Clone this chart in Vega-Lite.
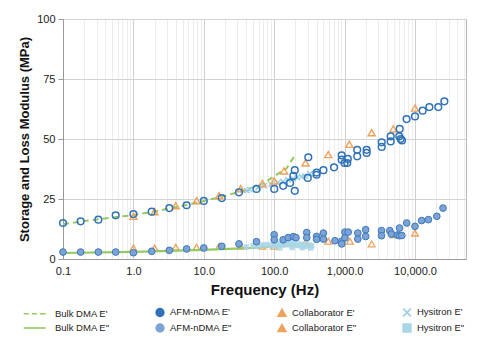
{
  "$schema": "https://vega.github.io/schema/vega-lite/v6.json",
  "width": 403,
  "height": 240,
  "autosize": {"type": "none"},
  "padding": {"left": 63, "top": 19, "right": 16, "bottom": 89},
  "config": {
    "font": "Liberation Sans",
    "view": {"stroke": "#b4b4b4"},
    "axis": {"labelColor": "#222", "titleColor": "#111", "domainColor": "#9a9a9a", "tickColor": "#9a9a9a"},
    "legend": {
      "orient": "none", "legendX": -23, "legendY": 288,
      "direction": "horizontal", "columns": 4,
      "columnPadding": 42, "rowPadding": 0,
      "labelFontSize": 9.5, "labelOffset": 5, "labelColor": "#222",
      "symbolSize": 60, "symbolStrokeWidth": 1.6
    }
  },
  "data": {"values": [
    {"series": "Bulk DMA E'", "freq": 0.1, "mod": 14.5},
    {"series": "Bulk DMA E'", "freq": 0.2, "mod": 15.8},
    {"series": "Bulk DMA E'", "freq": 0.5, "mod": 17.3},
    {"series": "Bulk DMA E'", "freq": 1, "mod": 18.3},
    {"series": "Bulk DMA E'", "freq": 2, "mod": 19.8},
    {"series": "Bulk DMA E'", "freq": 5, "mod": 22.2},
    {"series": "Bulk DMA E'", "freq": 10, "mod": 24.2},
    {"series": "Bulk DMA E'", "freq": 20, "mod": 26.3},
    {"series": "Bulk DMA E'", "freq": 40, "mod": 28.8},
    {"series": "Bulk DMA E'", "freq": 70, "mod": 31.5},
    {"series": "Bulk DMA E'", "freq": 100, "mod": 34.5},
    {"series": "Bulk DMA E'", "freq": 150, "mod": 37.8},
    {"series": "Bulk DMA E'", "freq": 200, "mod": 43.5},
    {"series": "Bulk DMA E\"", "freq": 0.1, "mod": 2.5},
    {"series": "Bulk DMA E\"", "freq": 1, "mod": 3.0},
    {"series": "Bulk DMA E\"", "freq": 10, "mod": 3.8},
    {"series": "Bulk DMA E\"", "freq": 50, "mod": 4.6},
    {"series": "Bulk DMA E\"", "freq": 100, "mod": 5.3},
    {"series": "Bulk DMA E\"", "freq": 150, "mod": 6.0},
    {"series": "Hysitron E\"", "freq": 40, "mod": 5.0},
    {"series": "Hysitron E\"", "freq": 50, "mod": 5.5},
    {"series": "Hysitron E\"", "freq": 60, "mod": 5.2},
    {"series": "Hysitron E\"", "freq": 70, "mod": 5.8},
    {"series": "Hysitron E\"", "freq": 80, "mod": 6.0},
    {"series": "Hysitron E\"", "freq": 90, "mod": 5.5},
    {"series": "Hysitron E\"", "freq": 100, "mod": 6.2},
    {"series": "Hysitron E\"", "freq": 110, "mod": 5.6},
    {"series": "Hysitron E\"", "freq": 120, "mod": 6.4},
    {"series": "Hysitron E\"", "freq": 120, "mod": 4.6},
    {"series": "Hysitron E\"", "freq": 130, "mod": 5.8},
    {"series": "Hysitron E\"", "freq": 140, "mod": 6.6},
    {"series": "Hysitron E\"", "freq": 150, "mod": 5.9},
    {"series": "Hysitron E\"", "freq": 160, "mod": 6.5},
    {"series": "Hysitron E\"", "freq": 175, "mod": 6.0},
    {"series": "Hysitron E\"", "freq": 180, "mod": 4.8},
    {"series": "Hysitron E\"", "freq": 190, "mod": 6.8},
    {"series": "Hysitron E\"", "freq": 200, "mod": 5.7},
    {"series": "Hysitron E\"", "freq": 215, "mod": 6.3},
    {"series": "Hysitron E\"", "freq": 230, "mod": 5.6},
    {"series": "Hysitron E\"", "freq": 245, "mod": 6.1},
    {"series": "Hysitron E\"", "freq": 250, "mod": 4.7},
    {"series": "Hysitron E\"", "freq": 260, "mod": 5.4},
    {"series": "Hysitron E\"", "freq": 280, "mod": 5.9},
    {"series": "Hysitron E\"", "freq": 300, "mod": 5.3},
    {"series": "Hysitron E\"", "freq": 320, "mod": 5.8},
    {"series": "Hysitron E\"", "freq": 330, "mod": 4.6},
    {"series": "Hysitron E\"", "freq": 340, "mod": 5.5},
    {"series": "Hysitron E'", "freq": 41, "mod": 28.5},
    {"series": "Hysitron E'", "freq": 45, "mod": 28.9},
    {"series": "Hysitron E'", "freq": 59, "mod": 29.7},
    {"series": "Hysitron E'", "freq": 71.5, "mod": 30.5},
    {"series": "Hysitron E'", "freq": 90, "mod": 31.2},
    {"series": "Hysitron E'", "freq": 113, "mod": 31.8},
    {"series": "Hysitron E'", "freq": 133, "mod": 32.2},
    {"series": "Hysitron E'", "freq": 157, "mod": 33.0},
    {"series": "Hysitron E'", "freq": 185, "mod": 33.5},
    {"series": "Hysitron E'", "freq": 213, "mod": 33.9},
    {"series": "Hysitron E'", "freq": 245, "mod": 34.3},
    {"series": "Hysitron E'", "freq": 273, "mod": 34.6},
    {"series": "Hysitron E'", "freq": 322, "mod": 35.5},
    {"series": "Collaborator E'", "freq": 1, "mod": 17.8},
    {"series": "Collaborator E'", "freq": 2, "mod": 19.7},
    {"series": "Collaborator E'", "freq": 4, "mod": 22.2},
    {"series": "Collaborator E'", "freq": 7.9, "mod": 24.3},
    {"series": "Collaborator E'", "freq": 16.5, "mod": 26.4},
    {"series": "Collaborator E'", "freq": 33.4, "mod": 29.3},
    {"series": "Collaborator E'", "freq": 68, "mod": 31.5},
    {"series": "Collaborator E'", "freq": 100, "mod": 32.5},
    {"series": "Collaborator E'", "freq": 138, "mod": 36.7},
    {"series": "Collaborator E'", "freq": 278, "mod": 40},
    {"series": "Collaborator E'", "freq": 587, "mod": 43.5},
    {"series": "Collaborator E'", "freq": 1167, "mod": 47.8},
    {"series": "Collaborator E'", "freq": 2420, "mod": 52.6},
    {"series": "Collaborator E'", "freq": 4920, "mod": 54.2},
    {"series": "Collaborator E'", "freq": 10000, "mod": 62.9},
    {"series": "Collaborator E\"", "freq": 1, "mod": 4.6},
    {"series": "Collaborator E\"", "freq": 2, "mod": 4.6},
    {"series": "Collaborator E\"", "freq": 4, "mod": 4.9},
    {"series": "Collaborator E\"", "freq": 7.9, "mod": 4.9},
    {"series": "Collaborator E\"", "freq": 16.5, "mod": 5.3},
    {"series": "Collaborator E\"", "freq": 33.4, "mod": 5.3},
    {"series": "Collaborator E\"", "freq": 68, "mod": 5.3},
    {"series": "Collaborator E\"", "freq": 100, "mod": 5.3},
    {"series": "Collaborator E\"", "freq": 138, "mod": 6.5},
    {"series": "Collaborator E\"", "freq": 278, "mod": 7.0},
    {"series": "Collaborator E\"", "freq": 587, "mod": 7.4},
    {"series": "Collaborator E\"", "freq": 1190, "mod": 7.4},
    {"series": "Collaborator E\"", "freq": 2420, "mod": 6.3},
    {"series": "Collaborator E\"", "freq": 4930, "mod": 10.1},
    {"series": "Collaborator E\"", "freq": 10000, "mod": 10.8},
    {"series": "AFM-nDMA E'", "freq": 0.1, "mod": 15.0},
    {"series": "AFM-nDMA E'", "freq": 0.178, "mod": 15.7},
    {"series": "AFM-nDMA E'", "freq": 0.318, "mod": 16.4},
    {"series": "AFM-nDMA E'", "freq": 0.56, "mod": 18.2},
    {"series": "AFM-nDMA E'", "freq": 1.0, "mod": 18.7},
    {"series": "AFM-nDMA E'", "freq": 1.82, "mod": 19.7},
    {"series": "AFM-nDMA E'", "freq": 3.24, "mod": 21.2},
    {"series": "AFM-nDMA E'", "freq": 5.7, "mod": 22.4},
    {"series": "AFM-nDMA E'", "freq": 10, "mod": 24.2},
    {"series": "AFM-nDMA E'", "freq": 18, "mod": 25.4},
    {"series": "AFM-nDMA E'", "freq": 31.6, "mod": 27.8},
    {"series": "AFM-nDMA E'", "freq": 56, "mod": 29.2},
    {"series": "AFM-nDMA E'", "freq": 100, "mod": 29.2},
    {"series": "AFM-nDMA E'", "freq": 134, "mod": 30.5},
    {"series": "AFM-nDMA E'", "freq": 168, "mod": 31.7},
    {"series": "AFM-nDMA E'", "freq": 187, "mod": 34.6},
    {"series": "AFM-nDMA E'", "freq": 196, "mod": 37.0},
    {"series": "AFM-nDMA E'", "freq": 196, "mod": 28.4},
    {"series": "AFM-nDMA E'", "freq": 305, "mod": 42.4},
    {"series": "AFM-nDMA E'", "freq": 300, "mod": 33.8},
    {"series": "AFM-nDMA E'", "freq": 400, "mod": 35.1},
    {"series": "AFM-nDMA E'", "freq": 400, "mod": 36.0},
    {"series": "AFM-nDMA E'", "freq": 500, "mod": 37.0},
    {"series": "AFM-nDMA E'", "freq": 708, "mod": 38.2},
    {"series": "AFM-nDMA E'", "freq": 908, "mod": 43.2},
    {"series": "AFM-nDMA E'", "freq": 908, "mod": 41.4},
    {"series": "AFM-nDMA E'", "freq": 1000, "mod": 40.0},
    {"series": "AFM-nDMA E'", "freq": 1110, "mod": 41.7},
    {"series": "AFM-nDMA E'", "freq": 1090, "mod": 40.0},
    {"series": "AFM-nDMA E'", "freq": 1510, "mod": 45.5},
    {"series": "AFM-nDMA E'", "freq": 1510, "mod": 42.8},
    {"series": "AFM-nDMA E'", "freq": 2055, "mod": 45.5},
    {"series": "AFM-nDMA E'", "freq": 2055, "mod": 44.2},
    {"series": "AFM-nDMA E'", "freq": 3365, "mod": 48.6},
    {"series": "AFM-nDMA E'", "freq": 3365, "mod": 46.7},
    {"series": "AFM-nDMA E'", "freq": 4510, "mod": 49.0},
    {"series": "AFM-nDMA E'", "freq": 4510, "mod": 51.1},
    {"series": "AFM-nDMA E'", "freq": 5980, "mod": 51.1},
    {"series": "AFM-nDMA E'", "freq": 6060, "mod": 54.2},
    {"series": "AFM-nDMA E'", "freq": 6260, "mod": 50.0},
    {"series": "AFM-nDMA E'", "freq": 6530, "mod": 49.4},
    {"series": "AFM-nDMA E'", "freq": 7590, "mod": 58.3},
    {"series": "AFM-nDMA E'", "freq": 10000, "mod": 59.4},
    {"series": "AFM-nDMA E'", "freq": 12850, "mod": 61.8},
    {"series": "AFM-nDMA E'", "freq": 16000, "mod": 63.3},
    {"series": "AFM-nDMA E'", "freq": 21400, "mod": 63.3},
    {"series": "AFM-nDMA E'", "freq": 26100, "mod": 65.7},
    {"series": "AFM-nDMA E\"", "freq": 0.1, "mod": 2.9},
    {"series": "AFM-nDMA E\"", "freq": 0.178, "mod": 2.9},
    {"series": "AFM-nDMA E\"", "freq": 0.318, "mod": 2.9},
    {"series": "AFM-nDMA E\"", "freq": 0.56, "mod": 2.9},
    {"series": "AFM-nDMA E\"", "freq": 1.0, "mod": 2.6},
    {"series": "AFM-nDMA E\"", "freq": 1.82, "mod": 3.2},
    {"series": "AFM-nDMA E\"", "freq": 3.24, "mod": 3.6},
    {"series": "AFM-nDMA E\"", "freq": 5.7, "mod": 4.2},
    {"series": "AFM-nDMA E\"", "freq": 10, "mod": 4.6},
    {"series": "AFM-nDMA E\"", "freq": 18, "mod": 5.3},
    {"series": "AFM-nDMA E\"", "freq": 31.6, "mod": 6.3},
    {"series": "AFM-nDMA E\"", "freq": 56, "mod": 7.2},
    {"series": "AFM-nDMA E\"", "freq": 100, "mod": 10.1},
    {"series": "AFM-nDMA E\"", "freq": 100, "mod": 8.0},
    {"series": "AFM-nDMA E\"", "freq": 134, "mod": 8.0},
    {"series": "AFM-nDMA E\"", "freq": 158, "mod": 8.9},
    {"series": "AFM-nDMA E\"", "freq": 187, "mod": 9.3},
    {"series": "AFM-nDMA E\"", "freq": 204, "mod": 8.9},
    {"series": "AFM-nDMA E\"", "freq": 290, "mod": 11.0},
    {"series": "AFM-nDMA E\"", "freq": 290, "mod": 8.9},
    {"series": "AFM-nDMA E\"", "freq": 400, "mod": 9.4},
    {"series": "AFM-nDMA E\"", "freq": 400, "mod": 8.2},
    {"series": "AFM-nDMA E\"", "freq": 500, "mod": 10.8},
    {"series": "AFM-nDMA E\"", "freq": 500, "mod": 8.3},
    {"series": "AFM-nDMA E\"", "freq": 730, "mod": 7.6},
    {"series": "AFM-nDMA E\"", "freq": 910, "mod": 7.4},
    {"series": "AFM-nDMA E\"", "freq": 910, "mod": 6.3},
    {"series": "AFM-nDMA E\"", "freq": 1010, "mod": 11.2},
    {"series": "AFM-nDMA E\"", "freq": 1010, "mod": 8.8},
    {"series": "AFM-nDMA E\"", "freq": 1125, "mod": 11.2},
    {"series": "AFM-nDMA E\"", "freq": 1540, "mod": 10.8},
    {"series": "AFM-nDMA E\"", "freq": 1540, "mod": 8.3},
    {"series": "AFM-nDMA E\"", "freq": 1990, "mod": 12.2},
    {"series": "AFM-nDMA E\"", "freq": 1990, "mod": 9.4},
    {"series": "AFM-nDMA E\"", "freq": 3340, "mod": 11.8},
    {"series": "AFM-nDMA E\"", "freq": 3340, "mod": 9.7},
    {"series": "AFM-nDMA E\"", "freq": 4380, "mod": 11.8},
    {"series": "AFM-nDMA E\"", "freq": 4620, "mod": 10.4},
    {"series": "AFM-nDMA E\"", "freq": 5600, "mod": 10.0},
    {"series": "AFM-nDMA E\"", "freq": 6030, "mod": 12.9},
    {"series": "AFM-nDMA E\"", "freq": 6030, "mod": 9.7},
    {"series": "AFM-nDMA E\"", "freq": 6500, "mod": 9.8},
    {"series": "AFM-nDMA E\"", "freq": 7620, "mod": 15.0},
    {"series": "AFM-nDMA E\"", "freq": 10000, "mod": 13.6},
    {"series": "AFM-nDMA E\"", "freq": 12400, "mod": 16.0},
    {"series": "AFM-nDMA E\"", "freq": 15500, "mod": 16.4},
    {"series": "AFM-nDMA E\"", "freq": 20400, "mod": 17.8},
    {"series": "AFM-nDMA E\"", "freq": 25000, "mod": 21.2}
  ]},
  "encoding": {
    "x": {
      "field": "freq", "type": "quantitative",
      "scale": {"type": "log", "domain": [0.1, 53000], "nice": false},
      "axis": {
        "title": "Frequency (Hz)",
        "titleFontSize": 15, "titleFontWeight": "bold", "titlePadding": 6,
        "values": [0.1,0.2,0.3,0.4,0.5,0.6,0.7,0.8,0.9,1,2,3,4,5,6,7,8,9,10,20,30,40,50,60,70,80,90,100,200,300,400,500,600,700,800,900,1000,2000,3000,4000,5000,6000,7000,8000,9000,10000,20000,30000,40000,50000],
        "labelExpr": "abs(log(datum.value)/LN10 - round(log(datum.value)/LN10)) < 0.001 ? format(datum.value, ',.1f') : ''",
        "labelFontSize": 11, "labelOverlap": false, "labelFlush": false, "labelPadding": 6,
        "ticks": false,
        "gridColor": {"condition": {"test": "abs(log(datum.value)/LN10 - round(log(datum.value)/LN10)) < 0.001", "value": "#cfcfcf"}, "value": "#ededed"}
      }
    },
    "y": {
      "field": "mod", "type": "quantitative",
      "scale": {"domain": [0, 100], "nice": false},
      "axis": {
        "title": "Storage and Loss Modulus (MPa)",
        "titleFontSize": 13, "titleFontWeight": "bold", "titlePadding": 5,
        "values": [0, 25, 50, 75, 100],
        "labelFontSize": 11, "labelPadding": 3, "tickSize": 5,
        "gridColor": "#d2d2d2"
      }
    },
    "color": {
      "field": "series", "type": "nominal",
      "scale": {
        "domain": ["Bulk DMA E'", "AFM-nDMA E'", "Collaborator E'", "Hysitron E'", "Bulk DMA E\"", "AFM-nDMA E\"", "Collaborator E\"", "Hysitron E\""],
        "range": ["#93c95f", "#2f72b8", "#f0a15a", "#9acfe2", "#93c95f", "#7ca3d4", "#f0a15a", "#a9d6e6"]
      },
      "legend": {"title": null}
    },
    "shape": {
      "field": "series", "type": "nominal",
      "scale": {
        "domain": ["Bulk DMA E'", "AFM-nDMA E'", "Collaborator E'", "Hysitron E'", "Bulk DMA E\"", "AFM-nDMA E\"", "Collaborator E\"", "Hysitron E\""],
        "range": ["M-5.5,0H-4.2M-3.4,0H-2.1M-1.3,0H0.2", "circle", "triangle-up", "M-1,-1L1,1M-1,1L1,-1", "M-5.5,0H0.2", "circle", "triangle-up", "square"]
      },
      "legend": {"title": null}
    }
  },
  "layer": [
    {
      "transform": [{"filter": {"field": "series", "equal": "Collaborator E\""}}],
      "mark": {"type": "point", "filled": false, "size": 45, "strokeWidth": 1.3, "opacity": 1}
    },
    {
      "transform": [{"filter": {"field": "series", "equal": "Bulk DMA E\""}}],
      "mark": {"type": "line", "strokeWidth": 2.2},
      "encoding": {"shape": null}
    },
    {
      "transform": [{"filter": {"field": "series", "equal": "Hysitron E\""}}],
      "mark": {"type": "point", "filled": true, "size": 30, "opacity": 0.85}
    },
    {
      "transform": [{"filter": {"field": "series", "equal": "AFM-nDMA E\""}}],
      "mark": {"type": "point", "filled": true, "stroke": "#3b78bd", "strokeWidth": 1, "size": 45, "opacity": 1}
    },
    {
      "transform": [{"filter": {"field": "series", "equal": "Bulk DMA E'"}}],
      "mark": {"type": "line", "strokeWidth": 2, "strokeDash": [6, 4]},
      "encoding": {"shape": null}
    },
    {
      "transform": [{"filter": {"field": "series", "equal": "Hysitron E'"}}],
      "mark": {"type": "point", "filled": false, "size": 28, "strokeWidth": 1.5, "opacity": 1}
    },
    {
      "transform": [{"filter": {"field": "series", "equal": "Collaborator E'"}}],
      "mark": {"type": "point", "filled": false, "size": 50, "strokeWidth": 1.4, "opacity": 1}
    },
    {
      "transform": [{"filter": {"field": "series", "equal": "AFM-nDMA E'"}}],
      "mark": {"type": "point", "filled": false, "size": 45, "strokeWidth": 1.5, "opacity": 1}
    }
  ]
}
